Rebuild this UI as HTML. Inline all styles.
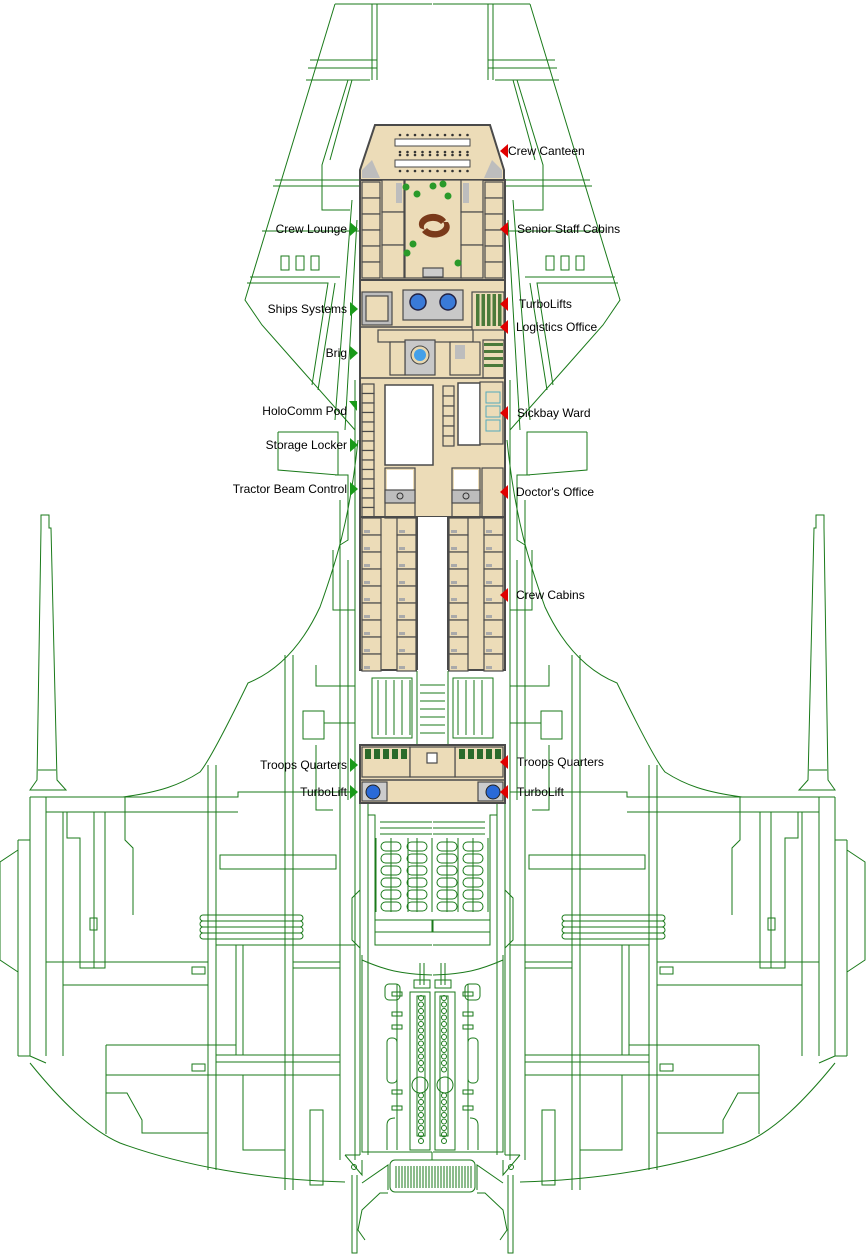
<!DOCTYPE html>
<html><head><meta charset="utf-8">
<style>
html,body{margin:0;padding:0;background:#fff;}
svg{display:block;}
text{font-family:"Liberation Sans",sans-serif;font-size:12px;fill:#000;}
</style></head>
<body>
<svg id="s" width="866" height="1259" viewBox="0 0 866 1259" xmlns="http://www.w3.org/2000/svg">
<g id="half" fill="none" stroke="#1a7a1a" stroke-width="1">
  <polyline points="335,4 245,300 262,325 300,368 355,430"/>
  <line x1="335" y1="4" x2="432" y2="4"/>
  <line x1="377" y1="4" x2="377" y2="80"/>
  <line x1="372" y1="4" x2="372" y2="80"/>
  <line x1="310" y1="60" x2="377" y2="60"/>
  <line x1="308" y1="68" x2="377" y2="68"/>
  <line x1="306" y1="80" x2="370" y2="80"/>
  <polyline points="348,80 322,165 322,210 350,210"/>
  <polyline points="352,80 330,160"/>
  <line x1="275" y1="180" x2="362" y2="180"/>
  <line x1="273" y1="186" x2="362" y2="186"/>
  <line x1="262" y1="231" x2="362" y2="231"/>
  <rect x="281" y="256" width="8" height="14"/>
  <rect x="296" y="256" width="8" height="14"/>
  <rect x="311" y="256" width="8" height="14"/>
  <line x1="250" y1="277" x2="340" y2="277"/>
  <polyline points="247,283 328,283 312,385"/>
  <line x1="335" y1="283" x2="318" y2="390"/>
  <line x1="352" y1="200" x2="335" y2="420"/>
  <line x1="357" y1="220" x2="345" y2="430"/>
  <line x1="355" y1="380" x2="355" y2="1160"/>
  <line x1="340" y1="500" x2="340" y2="1160"/>
  <polyline points="278,432 338,432 338,475 278,470 278,432"/>
  <polyline points="335,475 348,475 348,540 340,545"/>
  <path d="M358,440 C350,520 335,565 320,607 C300,650 275,672 248,683 C230,720 210,760 200,772 C180,785 160,792 123,797"/>
  <line x1="348" y1="560" x2="348" y2="800"/>
  <polyline points="333,550 333,610 355,610"/>
  <rect x="303" y="711" width="21" height="28"/>
  <polyline points="324,723 355,723"/>
  <polyline points="316,665 316,686 355,686"/>
  <polyline points="316,745 316,810 333,810"/>
  <polygon points="41,515 49,515 49,528 51,528 57,780 66,790 30,790 37,780 41,528"/>
  <line x1="38" y1="770" x2="56" y2="770"/>
  <polyline points="30,797 238,797 238,792 355,792"/>
  <line x1="46" y1="812" x2="238" y2="812"/>
  <polyline points="30,797 30,1056 46,1063"/>
  <line x1="46" y1="797" x2="46" y2="1056"/>
  <line x1="63" y1="812" x2="63" y2="1056"/>
  <polyline points="18,850 0,862 0,960 18,972"/>
  <line x1="18" y1="840" x2="18" y2="1056"/>
  <line x1="18" y1="840" x2="30" y2="840"/>
  <line x1="18" y1="1056" x2="30" y2="1056"/>
  <line x1="208" y1="765" x2="208" y2="1170"/>
  <line x1="216" y1="765" x2="216" y2="1170"/>
  <line x1="285" y1="655" x2="285" y2="1190"/>
  <line x1="293" y1="655" x2="293" y2="1190"/>
  <rect x="220" y="855" width="116" height="14"/>
  <rect x="200" y="915" width="103" height="6" rx="3"/>
  <rect x="200" y="921" width="103" height="6" rx="3"/>
  <rect x="200" y="927" width="103" height="6" rx="3"/>
  <rect x="200" y="933" width="103" height="6" rx="3"/>
  <polyline points="67,812 67,838 80,838 80,968 105,968 105,812"/>
  <line x1="94" y1="812" x2="94" y2="968"/>
  <rect x="90" y="918" width="7" height="12"/>
  <polyline points="125,797 125,840 133,848 133,915"/>
  <line x1="46" y1="962" x2="208" y2="962"/>
  <polyline points="63,985 208,985"/>
  <line x1="63" y1="985" x2="63" y2="1054"/>
  <line x1="216" y1="945" x2="355" y2="945"/>
  <polyline points="236,945 236,1055"/>
  <polyline points="243,945 243,1055"/>
  <line x1="293" y1="962" x2="340" y2="962"/>
  <line x1="293" y1="968" x2="340" y2="968"/>
  <polyline points="106,1045 236,1045 236,1055"/>
  <line x1="106" y1="1045" x2="106" y2="1134"/>
  <line x1="106" y1="1075" x2="340" y2="1075"/>
  <line x1="216" y1="1055" x2="340" y2="1055"/>
  <line x1="216" y1="1062" x2="340" y2="1062"/>
  <rect x="192" y="1064" width="13" height="7"/>
  <rect x="192" y="967" width="13" height="7"/>
  <polyline points="106,1093 127,1093 142,1120 142,1133 208,1133"/>
  <polyline points="243,1075 243,1150 285,1150"/>
  <rect x="310" y="1110" width="13" height="75"/>
  <path d="M30,1063 C60,1100 90,1130 120,1143 C180,1165 260,1180 345,1182"/>
  <!-- center lower hull -->
  <line x1="360" y1="803" x2="360" y2="1155"/>
  <line x1="368" y1="803" x2="368" y2="1155"/>
  <polyline points="368,815 375,815 375,945 432,945"/>
  <line x1="380" y1="822" x2="432" y2="822"/>
  <line x1="380" y1="828" x2="432" y2="828"/>
  <line x1="380" y1="834" x2="432" y2="834"/>
  <polyline points="360,890 352,898 352,940 360,948"/>
  <rect x="375" y="920" width="57" height="12"/>
  <polyline points="362,955 362,1152 432,1152"/>
  <path d="M362,960 C385,970 400,974 432,975"/>
  <polyline points="345,1155 362,1175 362,1160"/>
  <line x1="345" y1="1155" x2="360" y2="1155"/>
  <polyline points="352,1175 352,1253 357,1253 357,1175"/>
  <circle cx="354" cy="1167" r="2.5"/>
  <polyline points="362,1183 388,1165 388,1190"/>
  <polyline points="388,1193 380,1193 362,1210 358,1230 365,1240"/>
  <!-- engine left -->
  <rect x="385" y="984" width="15" height="16" rx="4"/>
  <rect x="392" y="992" width="10" height="4"/><rect x="392" y="1012" width="10" height="4"/><rect x="392" y="1025" width="10" height="4"/>
  <rect x="392" y="1090" width="10" height="4"/><rect x="392" y="1106" width="10" height="4"/>
  <line x1="397" y1="984" x2="397" y2="1150"/>
  <rect x="387" y="1038" width="10" height="45" rx="4"/>
  <path d="M387,1150 L387,1125 Q387,1118 395,1118"/>
  <rect x="410" y="992" width="20" height="158"/>
  <rect x="417" y="996" width="8" height="140"/>
  <line x1="420" y1="963" x2="420" y2="985"/><line x1="424" y1="963" x2="424" y2="985"/>
  <rect x="414" y="980" width="16" height="8"/>
  <circle cx="420" cy="1085" r="8"/>
</g>
<use href="#half" transform="translate(865,0) scale(-1,1)"/>
<g fill="none" stroke="#1a7a1a" stroke-width="1">
  <rect x="417" y="517" width="31" height="228"/>
  <g id="stairs"></g>
  <g id="ovals"></g>
  <g id="chain"></g>
  <rect x="390" y="1160" width="85" height="32" rx="5"/>
  <line x1="432" y1="1152" x2="432" y2="1160"/>
</g>
<g id="deck"></g>
<g id="labels">
  <text x="347" y="233" text-anchor="end">Crew Lounge</text>
  <text x="347" y="313" text-anchor="end">Ships Systems</text>
  <text x="347" y="357" text-anchor="end">Brig</text>
  <text x="347" y="415" text-anchor="end">HoloComm Pod</text>
  <text x="347" y="449" text-anchor="end">Storage Locker</text>
  <text x="347" y="493" text-anchor="end">Tractor Beam Control</text>
  <text x="347" y="769" text-anchor="end">Troops Quarters</text>
  <text x="347" y="796" text-anchor="end">TurboLift</text>
  <text x="508" y="155">Crew Canteen</text>
  <text x="517" y="233">Senior Staff Cabins</text>
  <text x="519" y="308">TurboLifts</text>
  <text x="516" y="331">Logistics Office</text>
  <text x="517" y="417">Sickbay Ward</text>
  <text x="516" y="496">Doctor's Office</text>
  <text x="516" y="599">Crew Cabins</text>
  <text x="517" y="766">Troops Quarters</text>
  <text x="517" y="796">TurboLift</text>
</g>
<g id="arrows"></g>
</svg>
<script>
var NS="http://www.w3.org/2000/svg";
function el(p,t,a){var e=document.createElementNS(NS,t);for(var k in a)e.setAttribute(k,a[k]);document.getElementById(p).appendChild(e);return e;}
for(var y=525;y<740;y+=8){ if(y>560&&y<680) continue; el("stairs","line",{x1:420,y1:y,x2:445,y2:y});}
for(var x=378;x<488;x+=8){ if(x>410&&x<455) continue; el("stairs","line",{x1:x,y1:680,x2:x,y2:735});}
el("stairs","rect",{x:372,y:678,width:40,height:60});el("stairs","rect",{x:453,y:678,width:40,height:60});
[391,417,447,473].forEach(function(cx){for(var i=0;i<6;i++){el("ovals","rect",{x:cx-10,y:842+i*12,width:20,height:9,rx:4.5});}
 el("ovals","line",{x1:cx,y1:838,x2:cx,y2:912});});
[376,408,432,458,488].forEach(function(x){el("ovals","line",{x1:x,y1:838,x2:x,y2:912});});
for(var y=998;y<1146;y+=6.5){ if(y>1075&&y<1095) continue; el("chain","circle",{cx:421,cy:y,r:2.5});el("chain","circle",{cx:444,cy:y,r:2.5});}
for(var x=396;x<472;x+=3)el("chain","line",{x1:x,y1:1166,x2:x,y2:1188});
var W="#4a4a4a",B="#ecdcb8",G="#bdbdbd";
el("deck","polygon",{points:"375,125 490,125 504,170 504,180 360,180 360,170",fill:B,stroke:W,"stroke-width":2});
el("deck","polygon",{points:"362,170 372,160 380,178 362,178",fill:G});
el("deck","polygon",{points:"502,170 492,160 484,178 502,178",fill:G});
el("deck","rect",{x:395,y:139,width:75,height:7,fill:"#fff",stroke:W});
el("deck","rect",{x:395,y:160,width:75,height:7,fill:"#fff",stroke:W});
for(var i=0;i<10;i++){[135,152,155,171].forEach(function(yy){el("deck","circle",{cx:400+i*7.5,cy:yy,r:1.3,fill:"#333"});});}
el("deck","rect",{x:360,y:180,width:145,height:490,fill:B,stroke:W,"stroke-width":2});
function r(x,y,w,h,f){return el("deck","rect",{x:x,y:y,width:w,height:h,fill:f||B,stroke:W,"stroke-width":1.2});}
r(405,180,57,98);
for(var i=0;i<6;i++){r(362,182+i*16,18,16);r(485,182+i*16,18,16);}
r(382,180,22,32);r(382,212,22,33);r(382,245,22,33);
r(461,180,22,32);r(461,212,22,33);r(461,245,22,33);
el("deck","rect",{x:396,y:183,width:6,height:20,fill:G});el("deck","rect",{x:463,y:183,width:6,height:20,fill:G});
el("deck","path",{d:"M420,228 a14,10 0 0 1 26,-8 l-5,4 a9,6 0 0 0 -16,6 z",fill:"#7a3a1a"});
el("deck","path",{d:"M448,222 a14,10 0 0 1 -26,10 l5,-4 a9,6 0 0 0 16,-6 z",fill:"#7a3a1a"});
[[406,187],[433,186],[443,184],[448,196],[417,194],[407,253],[413,244],[458,263]].forEach(function(p){el("deck","circle",{cx:p[0],cy:p[1],r:3.5,fill:"#2a9a2a"});});
r(423,268,20,9,"#ccc");
el("deck","line",{x1:360,y1:280,x2:505,y2:280,stroke:W,"stroke-width":2});
r(362,292,30,33,G);r(366,296,22,25);
r(403,290,60,30,"#c8c8c8");
el("deck","circle",{cx:418,cy:302,r:8,fill:"#3a7ad8",stroke:"#224","stroke-width":1.5});
el("deck","circle",{cx:448,cy:302,r:8,fill:"#3a7ad8",stroke:"#224","stroke-width":1.5});
r(472,292,32,38);
for(var i=0;i<5;i++)el("deck","rect",{x:476+i*5.5,y:294,width:3.5,height:32,fill:"#4a7a3a"});
el("deck","line",{x1:360,y1:327,x2:472,y2:327,stroke:W,"stroke-width":1.5});
r(378,330,95,12);
r(405,340,30,35,"#c8c8c8");
el("deck","circle",{cx:420,cy:355,r:9,fill:"#e8d8b0",stroke:W});el("deck","circle",{cx:420,cy:355,r:6,fill:"#44a0e8"});
r(390,342,15,33);
r(450,342,30,33);el("deck","rect",{x:455,y:345,width:10,height:14,fill:G});
r(483,340,21,38);for(var i=0;i<4;i++)el("deck","rect",{x:484,y:343+i*7,width:19,height:3,fill:"#4a7a3a"});
el("deck","line",{x1:360,y1:378,x2:505,y2:378,stroke:W,"stroke-width":1.5});
for(var i=0;i<14;i++)r(362,384+i*9.5,12,9.5);
el("deck","rect",{x:385,y:385,width:48,height:80,fill:"#fff",stroke:W,"stroke-width":1.5});
for(var i=0;i<6;i++)r(443,386+i*10,11,10);
el("deck","rect",{x:458,y:383,width:22,height:62,fill:"#fff",stroke:W,"stroke-width":1.5});
r(480,382,23,62);
for(var i=0;i<3;i++)el("deck","rect",{x:486,y:392+i*14,width:14,height:11,fill:"none",stroke:"#5ab","stroke-width":1});
r(385,468,30,50);el("deck","rect",{x:387,y:470,width:26,height:22,fill:"#fff"});r(385,490,30,13,G);
el("deck","circle",{cx:400,cy:496,r:3,fill:"none",stroke:"#333"});
r(452,468,28,50);el("deck","rect",{x:454,y:470,width:24,height:22,fill:"#fff"});r(452,490,28,13,G);
el("deck","circle",{cx:466,cy:496,r:3,fill:"none",stroke:"#333"});
r(482,468,21,50);
el("deck","line",{x1:360,y1:517,x2:505,y2:517,stroke:W,"stroke-width":2});
el("deck","rect",{x:417,y:517,width:31,height:154,fill:"#fff",stroke:"none"});
el("deck","line",{x1:417,y1:517,x2:417,y2:670,stroke:W,"stroke-width":2});
el("deck","line",{x1:448,y1:517,x2:448,y2:670,stroke:W,"stroke-width":2});
[362,397,449,484].forEach(function(x){for(var i=0;i<9;i++){r(x,518+i*17,19,17);el("deck","rect",{x:x+2,y:530+i*17,width:6,height:3,fill:"#aaa"});}});
el("deck","rect",{x:360,y:745,width:145,height:58,fill:B,stroke:W,"stroke-width":2});
r(362,747,48,30);r(455,747,48,30);r(410,747,45,30);
for(var i=0;i<5;i++){el("deck","rect",{x:365+i*9,y:749,width:6,height:10,fill:"#2a6a2a"});el("deck","rect",{x:459+i*9,y:749,width:6,height:10,fill:"#2a6a2a"});}
r(427,753,10,10,"#fff");
el("deck","line",{x1:360,y1:780,x2:505,y2:780,stroke:W,"stroke-width":1.5});
r(362,782,25,19,"#ccc");r(478,782,25,19,"#ccc");
el("deck","circle",{cx:373,cy:792,r:7,fill:"#2a6ad8",stroke:"#222"});
el("deck","circle",{cx:493,cy:792,r:7,fill:"#2a6ad8",stroke:"#222"});
[229,309,353,445,489,765,792].forEach(function(y){el("arrows","polygon",{points:"350,"+(y-7)+" 358,"+y+" 350,"+(y+7),fill:"#1a9a1a"});});
el("arrows","polygon",{points:"349,401 357,401 357,411",fill:"#1a9a1a"});
[151,229,304,327,413,492,595,762,792].forEach(function(y){el("arrows","polygon",{points:"508,"+(y-7)+" 500,"+y+" 508,"+(y+7),fill:"#e00000"});});
</script>
</body></html>
